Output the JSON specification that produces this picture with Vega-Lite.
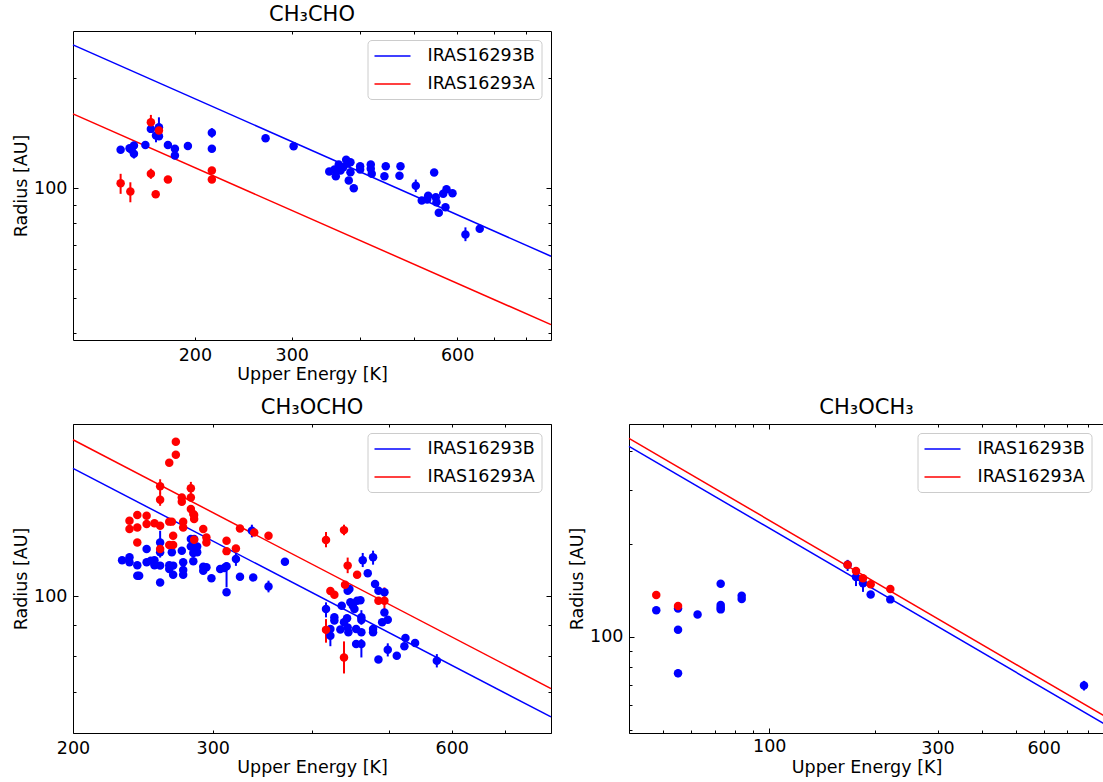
{
  "$schema": "https://vega.github.io/schema/vega-lite/v6.json",
  "padding": {"left": 12, "top": 3, "right": 0, "bottom": 0},
  "config": {
    "font": "DejaVu Sans",
    "view": {"stroke": "#000000", "strokeWidth": 1},
    "axis": {
      "grid": false, "domain": false,
      "labelFont": "DejaVu Sans", "labelFontSize": 17.5, "labelColor": "#000000",
      "titleFont": "DejaVu Sans", "titleFontSize": 17.5, "titleFontWeight": "normal", "titleColor": "#000000",
      "tickColor": "#000000", "tickWidth": 1,
      "labelFlush": false, "labelOverlap": false, "labelBound": false
    },
    "title": {"font": "DejaVu Sans", "fontSize": 21, "fontWeight": "normal", "color": "#000000", "frame": "group", "anchor": "middle", "offset": 6},
    "legend": {
      "title": null, "orient": "none", "legendY": 9,
      "symbolType": "M-1,0H3", "symbolSize": 324, "symbolStrokeWidth": 1.5,
      "labelFont": "DejaVu Sans", "labelFontSize": 17.5, "labelColor": "#000000", "labelOffset": 34,
      "padding": 6, "rowPadding": 9,
      "strokeColor": "#cccccc", "fillColor": "#ffffff", "cornerRadius": 4
    }
  },
  "datasets": {
    "ch3cho_fit": [
      {"src": "IRAS16293B", "E": 120, "R": 247},
      {"src": "IRAS16293B", "E": 889, "R": 65.0},
      {"src": "IRAS16293A", "E": 120, "R": 159.7},
      {"src": "IRAS16293A", "E": 889, "R": 42.2}
    ],
    "ch3cho_pts": [
      {"src": "IRAS16293B", "E": 146.5, "R": 127.3},
      {"src": "IRAS16293B", "E": 152.1, "R": 128.6},
      {"src": "IRAS16293B", "E": 153.4, "R": 127.3},
      {"src": "IRAS16293B", "E": 154.9, "R": 130.8},
      {"src": "IRAS16293B", "E": 154.9, "R": 124.1, "lo": 120.5, "hi": 127.8},
      {"src": "IRAS16293B", "E": 162.5, "R": 131.3},
      {"src": "IRAS16293B", "E": 166.3, "R": 145.3},
      {"src": "IRAS16293B", "E": 169.9, "R": 139.3, "lo": 133.5, "hi": 146.0},
      {"src": "IRAS16293B", "E": 172.0, "R": 146.8, "lo": 140.0, "hi": 156.3},
      {"src": "IRAS16293B", "E": 172.0, "R": 138.7},
      {"src": "IRAS16293B", "E": 178.6, "R": 131.3},
      {"src": "IRAS16293B", "E": 183.9, "R": 128.1},
      {"src": "IRAS16293B", "E": 183.9, "R": 122.8},
      {"src": "IRAS16293B", "E": 194.2, "R": 130.5},
      {"src": "IRAS16293B", "E": 214.7, "R": 141.7, "lo": 137.5, "hi": 146.0},
      {"src": "IRAS16293B", "E": 214.7, "R": 128.1},
      {"src": "IRAS16293B", "E": 268.9, "R": 136.9},
      {"src": "IRAS16293B", "E": 302.4, "R": 130.2},
      {"src": "IRAS16293B", "E": 351.1, "R": 111.0},
      {"src": "IRAS16293B", "E": 358.9, "R": 112.4},
      {"src": "IRAS16293B", "E": 360.9, "R": 107.7},
      {"src": "IRAS16293B", "E": 365.4, "R": 116.0},
      {"src": "IRAS16293B", "E": 368.1, "R": 111.7},
      {"src": "IRAS16293B", "E": 372.2, "R": 114.0},
      {"src": "IRAS16293B", "E": 376.9, "R": 119.5},
      {"src": "IRAS16293B", "E": 379.4, "R": 116.7},
      {"src": "IRAS16293B", "E": 383.7, "R": 117.7},
      {"src": "IRAS16293B", "E": 383.7, "R": 110.5},
      {"src": "IRAS16293B", "E": 381.0, "R": 104.8},
      {"src": "IRAS16293B", "E": 389.1, "R": 99.9},
      {"src": "IRAS16293B", "E": 399.6, "R": 114.8},
      {"src": "IRAS16293B", "E": 399.6, "R": 112.4},
      {"src": "IRAS16293B", "E": 417.8, "R": 116.0},
      {"src": "IRAS16293B", "E": 417.8, "R": 112.9},
      {"src": "IRAS16293B", "E": 419.5, "R": 109.4},
      {"src": "IRAS16293B", "E": 444.9, "R": 114.8},
      {"src": "IRAS16293B", "E": 442.4, "R": 107.7},
      {"src": "IRAS16293B", "E": 473.2, "R": 114.8},
      {"src": "IRAS16293B", "E": 471.2, "R": 108.0},
      {"src": "IRAS16293B", "E": 504.5, "R": 101.4, "lo": 97.5, "hi": 105.5},
      {"src": "IRAS16293B", "E": 517.3, "R": 92.4},
      {"src": "IRAS16293B", "E": 531.4, "R": 95.2},
      {"src": "IRAS16293B", "E": 529.2, "R": 93.0},
      {"src": "IRAS16293B", "E": 544.9, "R": 110.3},
      {"src": "IRAS16293B", "E": 548.6, "R": 94.4},
      {"src": "IRAS16293B", "E": 550.2, "R": 91.4},
      {"src": "IRAS16293B", "E": 555.6, "R": 85.5},
      {"src": "IRAS16293B", "E": 565.9, "R": 96.4},
      {"src": "IRAS16293B", "E": 571.3, "R": 88.6},
      {"src": "IRAS16293B", "E": 573.8, "R": 99.2},
      {"src": "IRAS16293B", "E": 588.4, "R": 96.8},
      {"src": "IRAS16293B", "E": 621.2, "R": 74.6, "lo": 71.5, "hi": 78.0},
      {"src": "IRAS16293B", "E": 659.5, "R": 77.3},
      {"src": "IRAS16293A", "E": 146.5, "R": 103.1, "lo": 96.4, "hi": 109.4},
      {"src": "IRAS16293A", "E": 152.6, "R": 97.8, "lo": 91.4, "hi": 103.7},
      {"src": "IRAS16293A", "E": 166.3, "R": 151.5, "lo": 146.0, "hi": 158.7},
      {"src": "IRAS16293A", "E": 166.3, "R": 109.4, "lo": 106.0, "hi": 113.0},
      {"src": "IRAS16293A", "E": 169.7, "R": 96.2},
      {"src": "IRAS16293A", "E": 172.0, "R": 143.8},
      {"src": "IRAS16293A", "E": 178.6, "R": 105.5},
      {"src": "IRAS16293A", "E": 214.7, "R": 111.7},
      {"src": "IRAS16293A", "E": 214.7, "R": 105.5}
    ],
    "ch3ocho_fit": [
      {"src": "IRAS16293B", "E": 200, "R": 160.9},
      {"src": "IRAS16293B", "E": 800, "R": 63.9},
      {"src": "IRAS16293A", "E": 200, "R": 178.9},
      {"src": "IRAS16293A", "E": 800, "R": 71.0}
    ],
    "ch3ocho_pts": [
      {"src": "IRAS16293B", "E": 230.6, "R": 114.4},
      {"src": "IRAS16293B", "E": 235.6, "R": 115.6},
      {"src": "IRAS16293B", "E": 235.6, "R": 113.5},
      {"src": "IRAS16293B", "E": 241.0, "R": 112.3},
      {"src": "IRAS16293B", "E": 241.0, "R": 108.0},
      {"src": "IRAS16293B", "E": 242.3, "R": 108.0},
      {"src": "IRAS16293B", "E": 247.6, "R": 119.2},
      {"src": "IRAS16293B", "E": 247.6, "R": 113.5},
      {"src": "IRAS16293B", "E": 250.6, "R": 114.2},
      {"src": "IRAS16293B", "E": 253.3, "R": 114.4},
      {"src": "IRAS16293B", "E": 253.3, "R": 112.3},
      {"src": "IRAS16293B", "E": 257.5, "R": 112.1},
      {"src": "IRAS16293B", "E": 257.5, "R": 105.3},
      {"src": "IRAS16293B", "E": 257.5, "R": 117.8, "lo": 115.5, "hi": 121.0},
      {"src": "IRAS16293B", "E": 257.5, "R": 122.2, "lo": 118.5, "hi": 127.6},
      {"src": "IRAS16293B", "E": 264.4, "R": 112.3},
      {"src": "IRAS16293B", "E": 264.4, "R": 110.7},
      {"src": "IRAS16293B", "E": 266.4, "R": 117.8},
      {"src": "IRAS16293B", "E": 267.4, "R": 108.4},
      {"src": "IRAS16293B", "E": 267.4, "R": 112.1},
      {"src": "IRAS16293B", "E": 274.2, "R": 118.5},
      {"src": "IRAS16293B", "E": 275.3, "R": 113.5},
      {"src": "IRAS16293B", "E": 275.3, "R": 110.3},
      {"src": "IRAS16293B", "E": 275.3, "R": 108.4},
      {"src": "IRAS16293B", "E": 281.5, "R": 123.7},
      {"src": "IRAS16293B", "E": 281.5, "R": 120.4},
      {"src": "IRAS16293B", "E": 284.2, "R": 123.7},
      {"src": "IRAS16293B", "E": 283.5, "R": 117.5},
      {"src": "IRAS16293B", "E": 283.5, "R": 113.9},
      {"src": "IRAS16293B", "E": 286.7, "R": 120.4},
      {"src": "IRAS16293B", "E": 286.7, "R": 117.8},
      {"src": "IRAS16293B", "E": 291.8, "R": 111.6},
      {"src": "IRAS16293B", "E": 291.8, "R": 110.0},
      {"src": "IRAS16293B", "E": 294.5, "R": 111.4},
      {"src": "IRAS16293B", "E": 298.8, "R": 107.0},
      {"src": "IRAS16293B", "E": 306.5, "R": 110.7},
      {"src": "IRAS16293B", "E": 310.1, "R": 111.1},
      {"src": "IRAS16293B", "E": 312.2, "R": 111.8, "lo": 103.4, "hi": 113.5},
      {"src": "IRAS16293B", "E": 312.2, "R": 101.5},
      {"src": "IRAS16293B", "E": 320.8, "R": 114.9, "lo": 112.0, "hi": 117.5},
      {"src": "IRAS16293B", "E": 324.6, "R": 107.6},
      {"src": "IRAS16293B", "E": 337.3, "R": 107.3},
      {"src": "IRAS16293B", "E": 352.6, "R": 103.7, "lo": 101.5, "hi": 106.0},
      {"src": "IRAS16293B", "E": 369.8, "R": 113.7},
      {"src": "IRAS16293B", "E": 336.0, "R": 127.6, "lo": 124.5, "hi": 130.5},
      {"src": "IRAS16293B", "E": 416.6, "R": 95.4, "lo": 92.5, "hi": 97.8},
      {"src": "IRAS16293B", "E": 421.9, "R": 88.6},
      {"src": "IRAS16293B", "E": 421.9, "R": 86.4, "lo": 83.1, "hi": 88.6},
      {"src": "IRAS16293B", "E": 426.8, "R": 92.5},
      {"src": "IRAS16293B", "E": 426.8, "R": 91.4},
      {"src": "IRAS16293B", "E": 434.3, "R": 88.4},
      {"src": "IRAS16293B", "E": 436.0, "R": 96.6},
      {"src": "IRAS16293B", "E": 438.9, "R": 90.8},
      {"src": "IRAS16293B", "E": 442.8, "R": 92.2},
      {"src": "IRAS16293B", "E": 443.6, "R": 102.1},
      {"src": "IRAS16293B", "E": 445.8, "R": 102.8},
      {"src": "IRAS16293B", "E": 443.6, "R": 89.1},
      {"src": "IRAS16293B", "E": 444.5, "R": 87.5},
      {"src": "IRAS16293B", "E": 447.1, "R": 97.8},
      {"src": "IRAS16293B", "E": 450.2, "R": 96.6},
      {"src": "IRAS16293B", "E": 452.4, "R": 95.4},
      {"src": "IRAS16293B", "E": 454.6, "R": 88.6},
      {"src": "IRAS16293B", "E": 454.6, "R": 83.8},
      {"src": "IRAS16293B", "E": 455.9, "R": 98.4},
      {"src": "IRAS16293B", "E": 460.3, "R": 98.6},
      {"src": "IRAS16293B", "E": 461.6, "R": 92.5, "lo": 90.0, "hi": 95.0},
      {"src": "IRAS16293B", "E": 461.6, "R": 91.6},
      {"src": "IRAS16293B", "E": 461.6, "R": 83.8, "lo": 79.7, "hi": 85.3},
      {"src": "IRAS16293B", "E": 461.6, "R": 87.5},
      {"src": "IRAS16293B", "E": 463.4, "R": 114.4, "lo": 111.5, "hi": 117.5},
      {"src": "IRAS16293B", "E": 470.2, "R": 109.0},
      {"src": "IRAS16293B", "E": 477.5, "R": 115.6, "lo": 112.5, "hi": 118.5},
      {"src": "IRAS16293B", "E": 477.5, "R": 88.6},
      {"src": "IRAS16293B", "E": 477.5, "R": 87.5},
      {"src": "IRAS16293B", "E": 480.3, "R": 104.7},
      {"src": "IRAS16293B", "E": 485.0, "R": 102.1},
      {"src": "IRAS16293B", "E": 485.0, "R": 79.1},
      {"src": "IRAS16293B", "E": 490.2, "R": 90.8},
      {"src": "IRAS16293B", "E": 493.5, "R": 101.5},
      {"src": "IRAS16293B", "E": 493.5, "R": 94.2},
      {"src": "IRAS16293B", "E": 498.3, "R": 91.7},
      {"src": "IRAS16293B", "E": 498.3, "R": 82.0, "lo": 80.0, "hi": 84.0},
      {"src": "IRAS16293B", "E": 511.5, "R": 80.2},
      {"src": "IRAS16293B", "E": 522.9, "R": 83.1},
      {"src": "IRAS16293B", "E": 524.5, "R": 85.7},
      {"src": "IRAS16293B", "E": 539.4, "R": 84.1},
      {"src": "IRAS16293B", "E": 574.5, "R": 78.7, "lo": 76.8, "hi": 80.7},
      {"src": "IRAS16293A", "E": 269.5, "R": 177.6},
      {"src": "IRAS16293A", "E": 269.5, "R": 169.2},
      {"src": "IRAS16293A", "E": 264.4, "R": 164.3},
      {"src": "IRAS16293A", "E": 257.5, "R": 150.5, "lo": 146.5, "hi": 154.5},
      {"src": "IRAS16293A", "E": 257.5, "R": 143.2, "lo": 140.0, "hi": 147.0},
      {"src": "IRAS16293A", "E": 274.2, "R": 144.4},
      {"src": "IRAS16293A", "E": 274.2, "R": 142.1},
      {"src": "IRAS16293A", "E": 281.5, "R": 149.4, "lo": 146.0, "hi": 153.0},
      {"src": "IRAS16293A", "E": 281.5, "R": 144.4},
      {"src": "IRAS16293A", "E": 281.5, "R": 138.3},
      {"src": "IRAS16293A", "E": 283.5, "R": 135.8},
      {"src": "IRAS16293A", "E": 284.2, "R": 133.3},
      {"src": "IRAS16293A", "E": 284.2, "R": 135.3},
      {"src": "IRAS16293A", "E": 235.6, "R": 132.4},
      {"src": "IRAS16293A", "E": 235.6, "R": 128.4},
      {"src": "IRAS16293A", "E": 241.0, "R": 135.3},
      {"src": "IRAS16293A", "E": 241.0, "R": 129.2},
      {"src": "IRAS16293A", "E": 247.6, "R": 134.9},
      {"src": "IRAS16293A", "E": 247.6, "R": 130.8},
      {"src": "IRAS16293A", "E": 253.3, "R": 131.2},
      {"src": "IRAS16293A", "E": 257.5, "R": 130.0},
      {"src": "IRAS16293A", "E": 264.4, "R": 132.0},
      {"src": "IRAS16293A", "E": 266.4, "R": 132.0},
      {"src": "IRAS16293A", "E": 267.4, "R": 125.3},
      {"src": "IRAS16293A", "E": 264.4, "R": 121.0},
      {"src": "IRAS16293A", "E": 267.4, "R": 121.0},
      {"src": "IRAS16293A", "E": 257.5, "R": 119.2},
      {"src": "IRAS16293A", "E": 275.3, "R": 132.0},
      {"src": "IRAS16293A", "E": 275.3, "R": 129.2},
      {"src": "IRAS16293A", "E": 284.2, "R": 123.4},
      {"src": "IRAS16293A", "E": 291.8, "R": 128.4},
      {"src": "IRAS16293A", "E": 294.5, "R": 124.5},
      {"src": "IRAS16293A", "E": 294.5, "R": 122.2},
      {"src": "IRAS16293A", "E": 241.0, "R": 122.2},
      {"src": "IRAS16293A", "E": 312.2, "R": 123.0},
      {"src": "IRAS16293A", "E": 312.2, "R": 118.3},
      {"src": "IRAS16293A", "E": 320.8, "R": 119.5},
      {"src": "IRAS16293A", "E": 324.6, "R": 128.7},
      {"src": "IRAS16293A", "E": 338.3, "R": 126.8},
      {"src": "IRAS16293A", "E": 352.6, "R": 125.3},
      {"src": "IRAS16293A", "E": 416.6, "R": 123.3, "lo": 120.0, "hi": 127.0},
      {"src": "IRAS16293A", "E": 438.9, "R": 127.9, "lo": 125.5, "hi": 130.5},
      {"src": "IRAS16293A", "E": 443.6, "R": 112.1, "lo": 109.0, "hi": 115.5},
      {"src": "IRAS16293A", "E": 455.9, "R": 108.4},
      {"src": "IRAS16293A", "E": 440.2, "R": 104.4},
      {"src": "IRAS16293A", "E": 421.9, "R": 102.0},
      {"src": "IRAS16293A", "E": 426.8, "R": 100.6},
      {"src": "IRAS16293A", "E": 416.6, "R": 88.3, "lo": 84.2, "hi": 91.9},
      {"src": "IRAS16293A", "E": 438.9, "R": 79.7, "lo": 75.1, "hi": 84.6},
      {"src": "IRAS16293A", "E": 485.0, "R": 98.4},
      {"src": "IRAS16293A", "E": 493.5, "R": 98.4, "lo": 95.4, "hi": 103.4}
    ],
    "ch3och3_fit": [
      {"src": "IRAS16293B", "E": 40, "R": 414},
      {"src": "IRAS16293B", "E": 890, "R": 52.3},
      {"src": "IRAS16293A", "E": 40, "R": 439.4},
      {"src": "IRAS16293A", "E": 890, "R": 55.5}
    ],
    "ch3och3_pts": [
      {"src": "IRAS16293B", "E": 47.8, "R": 121.8},
      {"src": "IRAS16293B", "E": 55.1, "R": 123.6},
      {"src": "IRAS16293B", "E": 55.1, "R": 105.4},
      {"src": "IRAS16293B", "E": 55.1, "R": 76.2, "lo": 74.0, "hi": 78.5},
      {"src": "IRAS16293B", "E": 62.6, "R": 118.2},
      {"src": "IRAS16293B", "E": 72.8, "R": 148.6},
      {"src": "IRAS16293B", "E": 72.8, "R": 126.7},
      {"src": "IRAS16293B", "E": 72.8, "R": 124.5},
      {"src": "IRAS16293B", "E": 72.8, "R": 122.7},
      {"src": "IRAS16293B", "E": 83.5, "R": 135.9},
      {"src": "IRAS16293B", "E": 83.5, "R": 132.6},
      {"src": "IRAS16293B", "E": 166.8, "R": 171.3, "lo": 163.4, "hi": 177.5},
      {"src": "IRAS16293B", "E": 176.2, "R": 156.2, "lo": 146.0, "hi": 161.4},
      {"src": "IRAS16293B", "E": 184.4, "R": 149.0, "lo": 139.8, "hi": 155.6},
      {"src": "IRAS16293B", "E": 193.9, "R": 137.2},
      {"src": "IRAS16293B", "E": 220.4, "R": 132.2},
      {"src": "IRAS16293B", "E": 781.0, "R": 69.5, "lo": 67.0, "hi": 72.0},
      {"src": "IRAS16293A", "E": 47.8, "R": 136.6},
      {"src": "IRAS16293A", "E": 55.1, "R": 125.8},
      {"src": "IRAS16293A", "E": 166.8, "R": 171.3},
      {"src": "IRAS16293A", "E": 176.2, "R": 163.4},
      {"src": "IRAS16293A", "E": 184.4, "R": 154.7},
      {"src": "IRAS16293A", "E": 193.9, "R": 147.9},
      {"src": "IRAS16293A", "E": 220.4, "R": 142.8}
    ]
  },
  "resolve": {"scale": {"color": "independent", "stroke": "independent"}, "legend": {"color": "independent", "stroke": "independent"}},
  "spacing": 12,
  "vconcat": [
    {
      "title": "CH₃CHO",
      "width": 478, "height": 309,
      "resolve": {"axis": {"x": "independent", "y": "independent"}},
      "layer": [
        {
          "data": {"name": "ch3cho_fit"},
          "mark": {"type": "line", "strokeWidth": 1.5},
          "encoding": {
            "x": {"field": "E", "type": "quantitative", "scale": {"type": "log", "domain": [120, 889], "nice": false},
              "axis": {"orient": "bottom", "title": "Upper Energy [K]", "values": [200, 300, 400, 500, 600, 700, 800],
                "labelExpr": "indexof([200, 300, 600], datum.value) >= 0 ? format(datum.value, 'd') : ''",
                "tickSize": -3, "labelPadding": 9, "titlePadding": 2}},
            "y": {"field": "R", "type": "quantitative", "scale": {"type": "log", "domain": [38.3, 269.6], "nice": false},
              "axis": {"orient": "left", "title": "Radius [AU]", "values": [40, 50, 60, 70, 80, 90, 100, 200],
                "labelExpr": "datum.value === 100 ? '100' : ''",
                "tickSize": {"condition": {"test": "datum.value === 100", "value": -5}, "value": -3},
                "labelPadding": 11, "titlePadding": 3}},
            "stroke": {"field": "src", "type": "nominal",
              "scale": {"domain": ["IRAS16293B", "IRAS16293A"], "range": ["#0000ff", "#ff0000"]},
              "legend": {"legendX": 294.5}}
          }
        },
        {
          "data": {"name": "ch3cho_pts"},
          "transform": [{"filter": "isValid(datum.lo)"}],
          "mark": {"type": "rule", "strokeWidth": 2},
          "encoding": {
            "x": {"field": "E", "type": "quantitative",
              "axis": {"orient": "top", "title": null, "labels": false, "values": [200, 300, 400, 500, 600, 700, 800], "tickSize": -3}},
            "y": {"field": "lo", "type": "quantitative",
              "axis": {"orient": "right", "title": null, "labels": false, "values": [40, 50, 60, 70, 80, 90, 100, 200],
                "tickSize": {"condition": {"test": "datum.value === 100", "value": -5}, "value": -3}}},
            "y2": {"field": "hi"},
            "color": {"field": "src", "type": "nominal",
              "scale": {"domain": ["IRAS16293B", "IRAS16293A"], "range": ["#0000ff", "#ff0000"]}, "legend": null}
          }
        },
        {
          "data": {"name": "ch3cho_pts"},
          "mark": {"type": "point", "filled": true, "size": 72, "opacity": 1},
          "encoding": {
            "x": {"field": "E", "type": "quantitative", "axis": null},
            "y": {"field": "R", "type": "quantitative", "axis": null},
            "color": {"field": "src", "type": "nominal", "legend": null}
          }
        }
      ]
    },
    {
      "hconcat": [
        {
          "title": "CH₃OCHO",
          "width": 478, "height": 309,
          "resolve": {"axis": {"x": "independent", "y": "independent"}},
          "layer": [
            {
              "data": {"name": "ch3ocho_fit"},
              "mark": {"type": "line", "strokeWidth": 1.5},
              "encoding": {
                "x": {"field": "E", "type": "quantitative", "scale": {"type": "log", "domain": [200, 800], "nice": false},
                  "axis": {"orient": "bottom", "title": "Upper Energy [K]", "values": [200, 300, 400, 500, 600, 700, 800],
                    "labelExpr": "indexof([200, 300, 600], datum.value) >= 0 ? format(datum.value, 'd') : ''",
                    "tickSize": -3, "labelPadding": 9, "titlePadding": 2}},
                "y": {"field": "R", "type": "quantitative", "scale": {"type": "log", "domain": [60.2, 189.7], "nice": false},
                  "axis": {"orient": "left", "title": "Radius [AU]", "values": [70, 80, 90, 100],
                    "labelExpr": "datum.value === 100 ? '100' : ''",
                    "tickSize": {"condition": {"test": "datum.value === 100", "value": -5}, "value": -3},
                    "labelPadding": 11, "titlePadding": 3}},
                "stroke": {"field": "src", "type": "nominal",
                  "scale": {"domain": ["IRAS16293B", "IRAS16293A"], "range": ["#0000ff", "#ff0000"]},
                  "legend": {"legendX": 294.5}}
              }
            },
            {
              "data": {"name": "ch3ocho_pts"},
              "transform": [{"filter": "isValid(datum.lo)"}],
              "mark": {"type": "rule", "strokeWidth": 2},
              "encoding": {
                "x": {"field": "E", "type": "quantitative",
                  "axis": {"orient": "top", "title": null, "labels": false, "values": [200, 300, 400, 500, 600, 700, 800], "tickSize": -3}},
                "y": {"field": "lo", "type": "quantitative",
                  "axis": {"orient": "right", "title": null, "labels": false, "values": [70, 80, 90, 100],
                    "tickSize": {"condition": {"test": "datum.value === 100", "value": -5}, "value": -3}}},
                "y2": {"field": "hi"},
                "color": {"field": "src", "type": "nominal",
                  "scale": {"domain": ["IRAS16293B", "IRAS16293A"], "range": ["#0000ff", "#ff0000"]}, "legend": null}
              }
            },
            {
              "data": {"name": "ch3ocho_pts"},
              "mark": {"type": "point", "filled": true, "size": 72, "opacity": 1},
              "encoding": {
                "x": {"field": "E", "type": "quantitative", "axis": null},
                "y": {"field": "R", "type": "quantitative", "axis": null},
                "color": {"field": "src", "type": "nominal", "legend": null}
              }
            }
          ]
        },
        {
          "title": "CH₃OCH₃",
          "width": 475, "height": 309,
          "view": {"stroke": null},
          "resolve": {"axis": {"x": "independent", "y": "independent"}},
          "layer": [
            {
              "data": {"name": "ch3och3_fit"},
              "mark": {"type": "line", "strokeWidth": 1.5},
              "encoding": {
                "x": {"field": "E", "type": "quantitative", "scale": {"type": "log", "domain": [40, 890], "nice": false},
                  "axis": {"orient": "bottom", "title": "Upper Energy [K]", "values": [40, 50, 60, 70, 80, 90, 100, 200, 300, 400, 500, 600, 700, 800],
                    "labelExpr": "indexof([100, 300, 600], datum.value) >= 0 ? format(datum.value, 'd') : ''",
                    "tickSize": {"condition": {"test": "datum.value === 100", "value": -5}, "value": -3},
                    "labelPadding": 9, "titlePadding": 2,
                    "domain": true, "domainColor": "#000000", "domainWidth": 1}},
                "y": {"field": "R", "type": "quantitative", "scale": {"type": "log", "domain": [48.8, 489], "nice": false},
                  "axis": {"orient": "left", "title": "Radius [AU]", "values": [50, 60, 70, 80, 90, 100, 200, 300, 400],
                    "labelExpr": "datum.value === 100 ? '100' : ''",
                    "tickSize": {"condition": {"test": "datum.value === 100", "value": -5}, "value": -3},
                    "labelPadding": 11, "titlePadding": 3,
                    "domain": true, "domainColor": "#000000", "domainWidth": 1}},
                "stroke": {"field": "src", "type": "nominal",
                  "scale": {"domain": ["IRAS16293B", "IRAS16293A"], "range": ["#0000ff", "#ff0000"]},
                  "legend": {"legendX": 288.5}}
              }
            },
            {
              "data": {"name": "ch3och3_pts"},
              "transform": [{"filter": "isValid(datum.lo)"}],
              "mark": {"type": "rule", "strokeWidth": 2},
              "encoding": {
                "x": {"field": "E", "type": "quantitative",
                  "axis": {"orient": "top", "title": null, "labels": false, "values": [40, 50, 60, 70, 80, 90, 100, 200, 300, 400, 500, 600, 700, 800],
                    "tickSize": {"condition": {"test": "datum.value === 100", "value": -5}, "value": -3},
                    "domain": true, "domainColor": "#000000", "domainWidth": 1}},
                "y": {"field": "lo", "type": "quantitative", "axis": null},
                "y2": {"field": "hi"},
                "color": {"field": "src", "type": "nominal",
                  "scale": {"domain": ["IRAS16293B", "IRAS16293A"], "range": ["#0000ff", "#ff0000"]}, "legend": null}
              }
            },
            {
              "data": {"name": "ch3och3_pts"},
              "mark": {"type": "point", "filled": true, "size": 72, "opacity": 1},
              "encoding": {
                "x": {"field": "E", "type": "quantitative", "axis": null},
                "y": {"field": "R", "type": "quantitative", "axis": null},
                "color": {"field": "src", "type": "nominal", "legend": null}
              }
            }
          ]
        }
      ],
      "spacing": 13,
      "resolve": {"scale": {"color": "independent", "stroke": "independent"}, "legend": {"color": "independent", "stroke": "independent"}}
    }
  ]
}
